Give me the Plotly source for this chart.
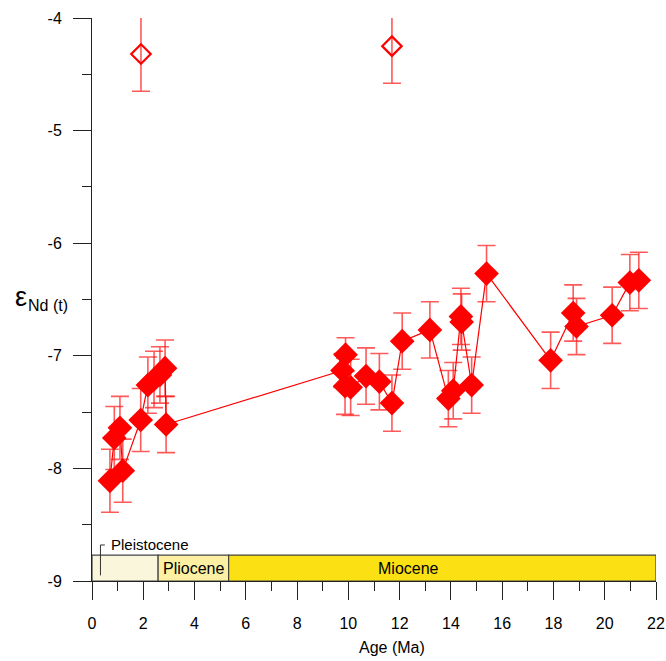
import plotly.graph_objects as go

# Filled samples (age in Ma, eNd(t), 2-sigma error)
age = [0.70, 0.87, 1.09, 1.20, 1.90, 2.18, 2.42, 2.65, 2.85, 2.89,
       9.77, 9.87, 9.89, 10.09, 10.69, 11.21, 11.70, 12.10, 13.18, 13.90,
       14.09, 14.39, 14.42, 14.81, 15.39, 17.89, 18.77, 18.90, 20.29, 20.98, 21.33]
end = [-8.11, -7.73, -7.64, -8.02, -7.57, -7.26, -7.21, -7.17, -7.11, -7.61,
       -7.13, -7.27, -6.99, -7.28, -7.18, -7.23, -7.42, -6.87, -6.77, -7.38,
       -7.31, -6.65, -6.70, -7.26, -6.27, -7.04, -6.62, -6.74, -6.64, -6.35, -6.33]
err = [0.28, 0.28, 0.28, 0.28, 0.28, 0.25, 0.25, 0.25, 0.25, 0.25,
       0.15, 0.25, 0.15, 0.25, 0.25, 0.25, 0.25, 0.25, 0.25, 0.25,
       0.25, 0.25, 0.25, 0.25, 0.25, 0.25, 0.25, 0.25, 0.25, 0.25, 0.25]

# Outlier (open) samples
age_open = [1.91, 11.70]
end_open = [-4.32, -4.25]
err_open = [0.33, 0.33]

# Axis ticks
x_ticks = [0, 2, 4, 6, 8, 10, 12, 14, 16, 18, 20, 22]
y_ticks = [-9, -8, -7, -6, -5, -4]
y_tick_labels = ["-9", "-8", "-7", "-6", "-5", "-4"]

# Geological epochs
epochs = ["Pleistocene", "Pliocene", "Miocene"]
epoch_start = [0.0, 2.58, 5.33]
epoch_end = [2.58, 5.33, 22.0]
epoch_colors = ["#faf6dc", "#fdf0a2", "#fbe014"]

RED = "#ff0000"
EBAR = "rgba(255,20,20,0.7)"
FONT = "Liberation Sans, Arial, sans-serif"

fig = go.Figure()

fig.add_trace(go.Scatter(
    x=age, y=end, mode="lines+markers",
    line=dict(color=RED, width=1.2),
    marker=dict(symbol="diamond", size=19, color=RED, line=dict(width=0)),
    error_y=dict(type="data", array=err, visible=True, color=EBAR, thickness=1.6, width=9),
    cliponaxis=False, showlegend=False, hoverinfo="skip",
))

fig.add_trace(go.Scatter(
    x=age_open, y=end_open, mode="markers",
    marker=dict(symbol="diamond-open", size=15, color=RED, line=dict(width=2.2, color=RED)),
    error_y=dict(type="data", array=err_open, visible=True, color=EBAR, thickness=1.6, width=9),
    cliponaxis=False, showlegend=False, hoverinfo="skip",
))

shapes = []
for s, e, c in zip(epoch_start, epoch_end, epoch_colors):
    shapes.append(dict(type="rect", xref="x", yref="y", x0=s, x1=e, y0=-9, y1=-8.77,
                       fillcolor=c, line=dict(color="#444", width=1.2), layer="below"))
# Leader line for Pleistocene label
shapes.append(dict(type="path", xref="x", yref="y",
                   path="M 0.33 -8.95 L 0.33 -8.68 L 0.5 -8.68",
                   line=dict(color="#333", width=1)))

annotations = [
    dict(x=0.68, y=-8.68, xref="x", yref="y", text=epochs[0], showarrow=False,
         xanchor="left", yanchor="middle", font=dict(size=15, color="black", family=FONT)),
    dict(x=(epoch_start[1] + epoch_end[1]) / 2, y=-8.885, xref="x", yref="y", text=epochs[1],
         showarrow=False, xanchor="center", yanchor="middle", font=dict(size=16, color="black", family=FONT)),
    dict(x=12.36, y=-8.885, xref="x", yref="y", text=epochs[2],
         showarrow=False, xanchor="center", yanchor="middle", font=dict(size=16, color="black", family=FONT)),
    # y-axis title: epsilon with subscript
    dict(x=-0.1259, y=0.504, xref="paper", yref="paper", text="ε",
         showarrow=False, xanchor="center", yanchor="middle", font=dict(size=27, color="black", family=FONT)),
    dict(x=-0.078, y=0.489, xref="paper", yref="paper", text="Nd (t)",
         showarrow=False, xanchor="center", yanchor="middle", font=dict(size=16, color="black", family=FONT)),
    # x-axis title
    dict(x=11.7, y=-0.119, xref="x", yref="paper", text="Age (Ma)",
         showarrow=False, xanchor="center", yanchor="middle", font=dict(size=16, color="black", family=FONT)),
]

fig.update_layout(
    width=666, height=661,
    margin=dict(l=92, r=10, t=18, b=80),
    paper_bgcolor="white", plot_bgcolor="white",
    font=dict(family=FONT, size=16, color="black"),
    shapes=shapes, annotations=annotations,
    hovermode=False,
    xaxis=dict(range=[0, 22], tickmode="array", tickvals=x_ticks, showgrid=False, zeroline=False,
               automargin=False,
               showline=True, linecolor="#222", linewidth=1,
               ticks="outside", ticklen=18, tickcolor="#222", tickwidth=1,
               ticklabelstandoff=10,
               minor=dict(dtick=1, ticks="outside", ticklen=9, tickcolor="#222", tickwidth=1, showgrid=False),
               tickfont=dict(size=16)),
    yaxis=dict(range=[-9, -4], tickmode="array", tickvals=y_ticks, ticktext=y_tick_labels,
               showgrid=False, zeroline=False, automargin=False,
               showline=True, linecolor="#222", linewidth=1,
               ticks="outside", ticklen=18, tickcolor="#222", tickwidth=1,
               ticklabelstandoff=8,
               minor=dict(dtick=0.5, ticks="outside", ticklen=9, tickcolor="#222", tickwidth=1, showgrid=False),
               tickfont=dict(size=16)),
)

fig.write_html("out.html", config={"displayModeBar": False},
               post_script="document.body.style.margin='0px';document.body.style.overflow='hidden';")
